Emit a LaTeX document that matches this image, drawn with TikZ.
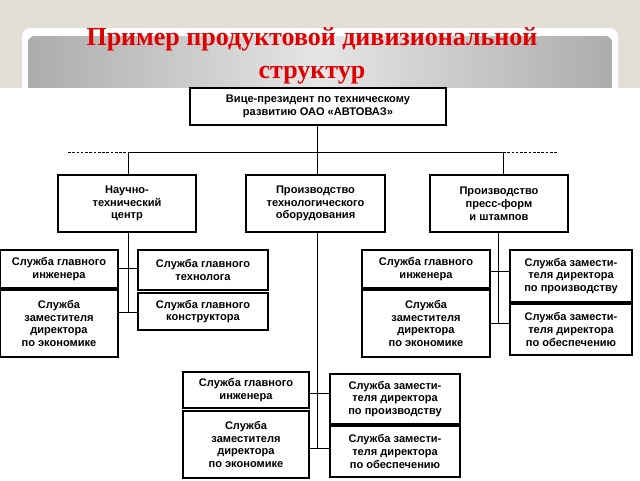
\documentclass[tikz,border=0pt]{standalone}
\usepackage{fontspec}
\setmainfont{Liberation Serif}
\newfontfamily\boxfont{Liberation Sans}
\definecolor{paper}{HTML}{E4DFD6}
\definecolor{titlered}{HTML}{E00000}

\tikzset{
  unit/.style={draw,line width=0.8pt,fill=white,align=center,inner sep=1pt,
    font=\boxfont\bfseries\fontsize{8.3}{9.6}\selectfont},
  link/.style={line width=0.6pt},
}
\newcommand{\unitbox}[6]{% name, x1, y1, x2, y2, text
  \node[unit,minimum width={0.75pt*(#4-#2)},minimum height={0.75pt*(#5-#3)}] (#1) at ({(#2+#4)/2},{(#3+#5)/2}) {#6};}

\begin{document}
\begin{tikzpicture}[x=0.75pt,y=-0.75pt]
  \useasboundingbox (0,0) rectangle (640,480);
  % slide background
  \fill[paper] (0,0) rectangle (640,90);
  \fill[white,rounded corners=6] (22,28) rectangle (618,100);
  \shade[left color=gray!65,right color=gray!65,middle color=gray!20,rounded corners=5]
    (28,36) rectangle (612,100);
  \fill[white] (0,88) rectangle (640,480);
  \node[font=\bfseries\fontsize{19.5}{25}\selectfont,text=titlered,align=center] (title) at (312,56)
    {Пример продуктовой дивизиональной\\структур};

  % connectors
  \coordinate (hl) at (128,152);
  \coordinate (hr) at (503,152);
  \draw[link,dash pattern=on 2pt off 1.2pt] (68,152) -- (hl);
  \draw[link,dash pattern=on 2pt off 1.2pt] (hr) -- (558,152);
  \draw[link] (hl) -- (hr);
  \draw[link] (317,125) -- (317,448);
  \draw[link] (hl) -- (128,175);
  \draw[link] (hr) -- (503,175);
  \draw[link] (128,232) -- (128,312);
  \draw[link] (118,268) -- (138,268);
  \draw[link] (118,312) -- (138,312);
  \draw[link] (498,232) -- (498,323);
  \draw[link] (490,271) -- (510,271);
  \draw[link] (490,323) -- (510,323);
  \draw[link] (309,393) -- (330,393);
  \draw[link] (309,448) -- (330,448);

  % boxes
  \unitbox{vp}{190}{88}{446}{125}{Вице-президент по техническому\\развитию ОАО «АВТОВАЗ»}
  \unitbox{ntc}{58}{175}{196}{232}{Научно-\\технический\\центр}
  \unitbox{pto}{246}{175}{385}{232}{Производство\\технологического\\оборудования}
  \unitbox{pfs}{430}{175}{568}{232}{Производство\\пресс-форм\\и штампов}
  \unitbox{aeng}{0}{250}{118}{288}{Служба главного\\инженера}
  \unitbox{aeco}{0}{290}{118}{357}{Служба\\заместителя\\директора\\по экономике}
  \unitbox{atech}{138}{250}{268}{290}{Служба главного\\технолога}
  \unitbox{akon}{138}{293}{268}{330}{Служба главного\\конструктора}
  \unitbox{beng}{362}{250}{490}{288}{Служба главного\\инженера}
  \unitbox{beco}{362}{290}{490}{357}{Служба\\заместителя\\директора\\по экономике}
  \unitbox{bpro}{510}{250}{632}{302}{Служба замести-\\теля директора\\по производству}
  \unitbox{bsup}{510}{304}{632}{355}{Служба замести-\\теля директора\\по обеспечению}
  \unitbox{ceng}{183}{372}{309}{408}{Служба главного\\инженера}
  \unitbox{ceco}{183}{411}{309}{478}{Служба\\заместителя\\директора\\по экономике}
  \unitbox{cpro}{330}{374}{460}{424}{Служба замести-\\теля директора\\по производству}
  \unitbox{csup}{330}{426}{460}{477}{Служба замести-\\теля директора\\по обеспечению}
\end{tikzpicture}
\end{document}
